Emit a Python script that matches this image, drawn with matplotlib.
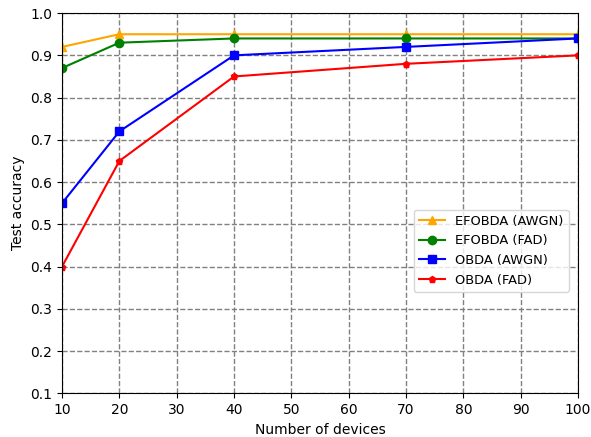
import matplotlib
matplotlib.use("Agg")
import matplotlib.pyplot as plt

devices = [10, 20, 40, 70, 100]
efobda_awgn = [0.92, 0.95, 0.95, 0.95, 0.95]
efobda_fad = [0.87, 0.93, 0.94, 0.94, 0.94]
obda_awgn = [0.55, 0.72, 0.90, 0.92, 0.94]
obda_fad = [0.40, 0.65, 0.85, 0.88, 0.90]

fig = plt.figure(figsize=(5.91, 4.37), dpi=100)
ax = fig.add_axes([0.105, 0.10, 0.873, 0.87])

ax.plot(devices, efobda_awgn, color='orange', marker='^', markersize=6, label='EFOBDA (AWGN)')
ax.plot(devices, efobda_fad, color='green', marker='o', markersize=6, label='EFOBDA (FAD)')
ax.plot(devices, obda_awgn, color='blue', marker='s', markersize=6, label='OBDA (AWGN)')
ax.plot(devices, obda_fad, color='red', marker='p', markersize=5, label='OBDA (FAD)')

ax.set_xlim(10, 100)
ax.set_ylim(0.1, 1.0)
ax.set_xticks(range(10, 101, 10))
ax.set_yticks([0.1 * i for i in range(1, 11)])
ax.set_yticklabels([f"{0.1*i:.1f}" for i in range(1, 11)])
ax.grid(True, linestyle='--', color='gray', linewidth=1)
ax.set_xlabel('Number of devices')
ax.set_ylabel('Test accuracy')
ax.legend(loc='center right', bbox_to_anchor=(0.995, 0.375), fontsize=9.4)

fig.savefig('out.png', dpi=100)
